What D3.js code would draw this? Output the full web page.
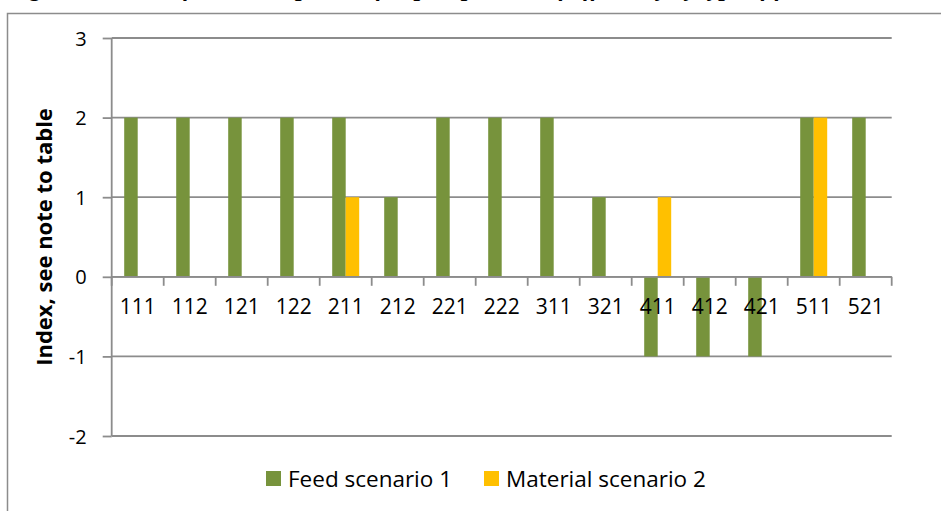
<!DOCTYPE html>
<html>
<head>
<meta charset="utf-8">
<script src="https://cdn.jsdelivr.net/npm/d3@7"></script>
<style>
  html, body { margin: 0; padding: 0; background: #fff; }
  svg { display: block; }
  text { font-family: "Open Sans", "Noto Sans", sans-serif; fill: #000; }
</style>
</head>
<body>
<svg id="chart" width="941" height="511"></svg>
<script>
const categories = ["111","112","121","122","211","212","221","222","311","321","411","412","421","511","521"];
const seriesNames = ["Feed scenario 1", "Material scenario 2"];
const feedScenario1 = [2,2,2,2,2,1,2,2,2,1,-1,-1,-1,2,2];
const materialScenario2 = [0,0,0,0,1,0,0,0,0,0,1,0,0,2,0];
const yTicks = [-2,-1,0,1,2,3];
const yTitle = "Index, see note to table";
const title = "Figure 3: Index of the development of impact per unit of efficiency by type of fuel";
const colors = ["#77933C", "#FFC000"];

const svg = d3.select("#chart");

// title (only its descenders show at the top edge, as in the reference)
svg.append("text")
  .attr("x", 8).attr("y", -4)
  .style("font-family", "'Liberation Serif', 'DejaVu Serif', serif")
  .style("font-weight", "bold").style("font-style", "italic")
  .style("font-size", "24px")
  .text(title);

// outer frame
svg.append("rect")
  .attr("x", 7.5).attr("y", 13.5).attr("width", 960).attr("height", 520)
  .attr("fill", "none").attr("stroke", "#8c8c8c").attr("stroke-width", 1.5);

const x = d3.scaleBand().domain(categories).range([111.7, 891.7]).padding(0);
const y = d3.scaleLinear().domain([-2, 3]).range([436, 38]);
const x1 = d3.scaleBand().domain(seriesNames).range([0, x.bandwidth()]).paddingInner(0).paddingOuter(0.926);

const grid = "#8c8c8c";

// gridlines
svg.append("g").selectAll("line").data(yTicks).join("line")
  .attr("x1", x.range()[0]).attr("x2", x.range()[1])
  .attr("y1", d => y(d)).attr("y2", d => y(d))
  .attr("stroke", grid).attr("stroke-width", 1.8);

// bars
const data = categories.map((c, i) => ({ c, vals: [feedScenario1[i], materialScenario2[i]] }));
const groups = svg.append("g").selectAll("g").data(data).join("g")
  .attr("transform", d => `translate(${x(d.c)},0)`);
groups.selectAll("rect")
  .data(d => d.vals.map((v, k) => ({ v, s: seriesNames[k], k })).filter(e => e.v !== 0))
  .join("rect")
  .attr("x", e => x1(e.s))
  .attr("width", x1.bandwidth())
  .attr("y", e => y(Math.max(0, e.v)))
  .attr("height", e => Math.abs(y(e.v) - y(0)))
  .attr("fill", e => colors[e.k]);

// y axis
const yAxis = svg.append("g").attr("transform", `translate(${x.range()[0]},0)`)
  .call(d3.axisLeft(y).tickValues(yTicks).tickSize(9).tickPadding(16).tickFormat(d => String(d)));
yAxis.select(".domain").attr("stroke", grid).attr("stroke-width", 1.8).attr("d", `M0,${y(3)}V${y(-2)}`);
yAxis.selectAll(".tick line").attr("stroke", grid).attr("stroke-width", 1.8);
yAxis.selectAll(".tick text").style("font-size", "20px").style("font-family", "'Open Sans', sans-serif").attr("dy", "0.35em");

// x axis at zero
const xAxisG = svg.append("g").attr("transform", `translate(0,${y(0)})`);
xAxisG.append("line").attr("x1", x.range()[0]).attr("x2", x.range()[1])
  .attr("stroke", grid).attr("stroke-width", 1.8);
const boundaries = categories.map(c => x(c)).concat([x.range()[1]]);
xAxisG.selectAll("line.tk").data(boundaries).join("line").attr("class", "tk")
  .attr("x1", d => d).attr("x2", d => d).attr("y1", 0).attr("y2", 9)
  .attr("stroke", grid).attr("stroke-width", 1.8);
xAxisG.selectAll("text").data(categories).join("text")
  .attr("x", d => x(d) + x.bandwidth() / 2)
  .attr("y", 37)
  .attr("text-anchor", "middle")
  .style("font-size", "21px")
  .text(d => d);

// y title
svg.append("text")
  .attr("transform", `translate(52,237) rotate(-90)`)
  .attr("text-anchor", "middle")
  .style("font-size", "22px").style("font-weight", "bold")
  .text(yTitle);

// legend
const legendX = [266, 484];
const lg = svg.append("g").selectAll("g").data(seriesNames).join("g")
  .attr("transform", (d, i) => `translate(${legendX[i]},471)`);
lg.append("rect").attr("width", 15).attr("height", 15).attr("fill", (d, i) => colors[i]);
lg.append("text").attr("x", 22).attr("y", 15.5).style("font-size", "22.5px").text(d => d);
</script>
</body>
</html>
